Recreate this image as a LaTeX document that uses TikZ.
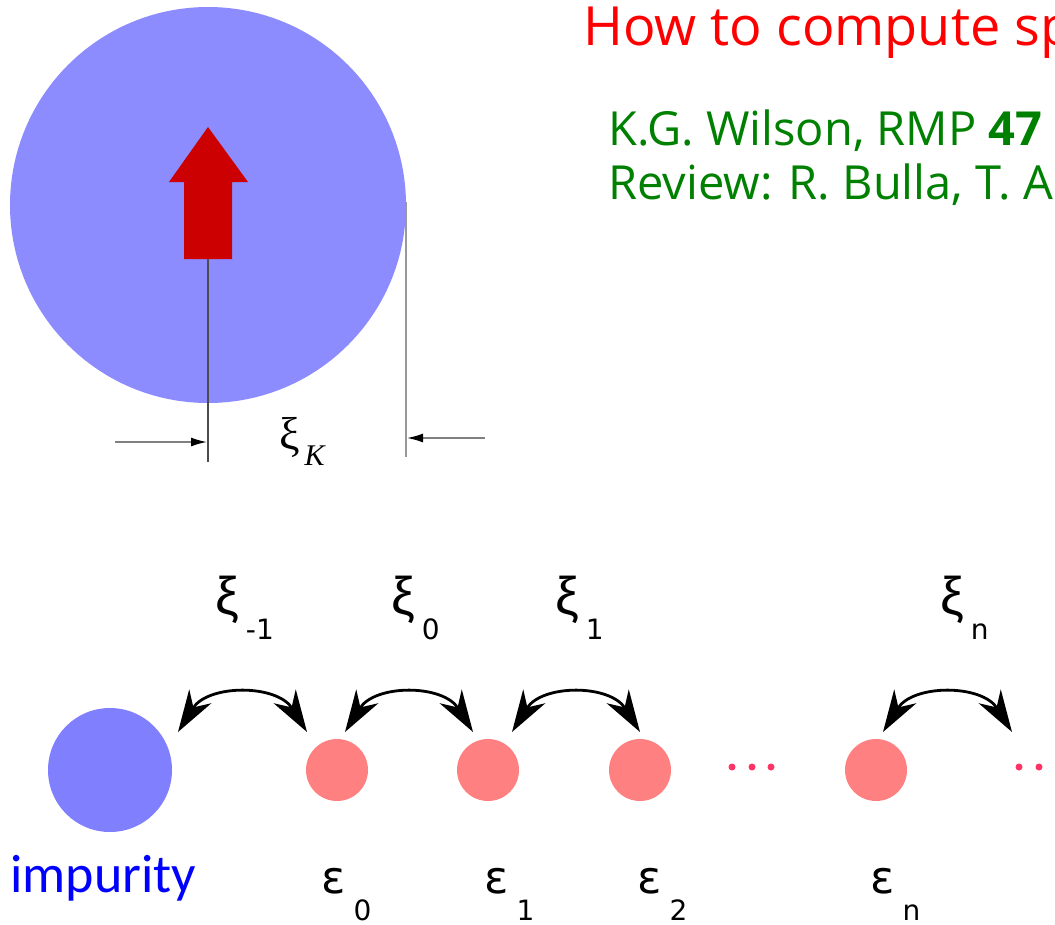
\documentclass[tikz,border=0pt]{standalone}
\usepackage{fontspec}
\setmainfont{Open Sans}
\newfontfamily\greekfont{DejaVu Sans}
\newfontfamily\xifont{Liberation Sans}
\newfontfamily\serifgreek{Liberation Serif}
\newfontfamily\impfont{Carlito}
\usetikzlibrary{arrows.meta}
\definecolor{cloudblue}{HTML}{8C8CFF}
\definecolor{impblue}{HTML}{8080FF}
\definecolor{sitered}{HTML}{FF8080}
\definecolor{dotpink}{HTML}{FF3366}
\definecolor{spinred}{HTML}{CC0000}
\definecolor{refgreen}{HTML}{008000}
\newcommand{\hoplbl}[1]{{\xifont\fontsize{53bp}{56bp}\selectfont ξ}\hspace{7bp}\raisebox{-25bp}{\greekfont\fontsize{28bp}{30bp}\selectfont #1}}
\newcommand{\sitelbl}[1]{{\greekfont\fontsize{45bp}{48bp}\selectfont ε}\hspace{8bp}\raisebox{-27bp}{\greekfont\fontsize{28bp}{30bp}\selectfont #1}}
\tikzset{
  site/.style={circle, fill=sitered, minimum size=62bp, inner sep=0pt},
  hop/.style={line width=2.8bp, {Stealth[length=42bp, width=26bp, inset=13bp]}-{Stealth[length=42bp, width=26bp, inset=13bp]}},
  dimline/.style={draw=gray, line width=1.6bp, -{Latex[length=16bp, width=9bp, color=black]}},
  chaindot/.style={circle, fill=dotpink, minimum size=7bp, inner sep=0pt},
}
\begin{document}
\begin{tikzpicture}[x=1bp, y=-1bp]
  \clip (0,0) rectangle (1055,925);
  \fill[white] (0,0) rectangle (1055,925);
  % Kondo cloud
  \node[circle, fill=cloudblue, minimum size=396bp, inner sep=0pt] (cloud) at (208,205) {};
  % spin
  \fill[spinred] (208,127) -- (248,182) -- (232,182) -- (232,259) -- (184,259) -- (184,182) -- (169,182) -- cycle;
  \coordinate (spinfoot) at (208,259);
  \coordinate (cloudedge) at (406,202);
  % size of the cloud
  \coordinate (footL) at (208,462);
  \coordinate (footR) at (406,457);
  \draw[line width=1.2bp, draw=black!70] (spinfoot) -- (footL);
  \draw[line width=1.6bp, draw=gray!80] (cloudedge) -- (footR);
  \coordinate (dimL) at (115,442);
  \coordinate (dimR) at (485,438);
  \draw[dimline] (dimL) -- (207,442);
  \draw[dimline] (dimR) -- (407,438);
  \node[anchor=base west, inner sep=0pt] (xiK) at (279,449)
    {{\serifgreek\fontsize{46bp}{50bp}\selectfont ξ}\hspace{5bp}\raisebox{-16bp}{\serifgreek\itshape\fontsize{30bp}{32bp}\selectfont K}};
  % title and references
  \node[anchor=base west, inner sep=0pt, text=red, font=\fontsize{54bp}{58bp}\selectfont] (title) at (583,45) {How to compute sp};
  \node[anchor=base west, inner sep=0pt, text=refgreen, font=\fontsize{47bp}{50bp}\selectfont] (ref1) at (608,145) {K.G. Wilson, RMP \textbf{47}};
  \node[anchor=base west, inner sep=0pt, text=refgreen, font=\fontsize{47bp}{50bp}\selectfont] (ref2) at (608,199) {Review: R. Bulla, T. A};
  % Wilson chain
  \node[circle, fill=impblue, minimum size=124bp, inner sep=0pt] (imp) at (110,770) {};
  \node[anchor=base west, inner sep=0pt, text=blue, font=\impfont\fontsize{54bp}{58bp}\selectfont] (implbl) at (10,892) {impurity};
  \foreach \name/\x in {s0/337, s1/488, s2/640, sn/876}
    \node[site] (\name) at (\x,770) {};
  \foreach \x [count=\i] in {732, 752, 771, 1019, 1039}
    \node[chaindot] (dot\i) at (\x,767) {};
  % hoppings
  \foreach \a/\b [count=\i] in {178/307, 345/473, 512/640, 883/1012} {
    \coordinate (hopL\i) at (\a,732);
    \coordinate (hopR\i) at (\b,732);
    \draw[hop] (hopL\i) .. controls +(30,-48) and +(-30,-48) .. (hopR\i);
  }
  \foreach \x/\s [count=\i] in {215/-1, 391/0, 555/1, 940/n}
    \node[anchor=base west, inner sep=0pt] (xi\i) at (\x,614) {\hoplbl{\s}};
  \foreach \x/\s [count=\i] in {321/0, 484/1, 637/2, 870/n}
    \node[anchor=base west, inner sep=0pt] (eps\i) at (\x,893) {\sitelbl{\s}};
\end{tikzpicture}
\end{document}
